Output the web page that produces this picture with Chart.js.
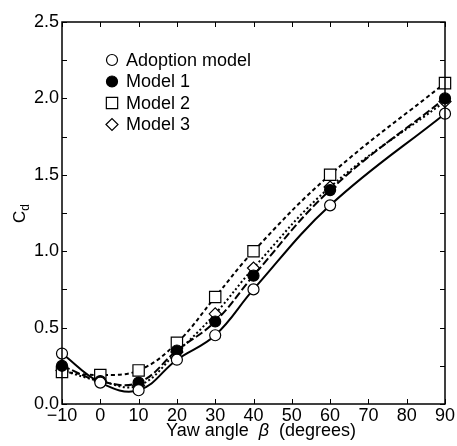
<!DOCTYPE html>
<html lang="en">
<head>
<meta charset="UTF-8">
<title>Cd vs yaw angle</title>
<script src="https://cdn.jsdelivr.net/npm/chart.js"></script>
<style>
  html, body { margin: 0; padding: 0; background: #fff; }
  #box { width: 457px; height: 446px; }
</style>
</head>
<body>
<div id="box"><canvas id="mycanvas"></canvas></div>
<script>
  // data
  const yawAngles = [-10, 0, 10, 20, 30, 40, 60, 90]
  const adoptionModel = [0.33, 0.14, 0.09, 0.29, 0.45, 0.75, 1.30, 1.90]
  const model1 = [0.25, 0.15, 0.14, 0.35, 0.54, 0.84, 1.40, 2.00]
  const model2 = [0.21, 0.19, 0.22, 0.40, 0.70, 1.00, 1.50, 2.10]
  const model3 = [0.22, 0.15, 0.12, 0.34, 0.59, 0.89, 1.42, 1.98]
  const seriesNames = ['Adoption model', 'Model 1', 'Model 2', 'Model 3']
  const xTicks = [-10, 0, 10, 20, 30, 40, 50, 60, 70, 80, 90]
  const yTicks = [0, 0.25, 0.5, 0.75, 1, 1.25, 1.5, 1.75, 2, 2.25, 2.5]
  const yLabels = [0, 0.5, 1, 1.5, 2, 2.5]

  const FONT = '"Liberation Sans", Arial, sans-serif'

  const toPoints = arr => arr.map((v, i) => ({ x: yawAngles[i], y: v }))

  const looks = [
    { dash: [], style: 'circle', fill: '#fff', r: 5.5 },
    { dash: [8, 3], style: 'circle', fill: '#000', r: 5.5 },
    { dash: [4, 3], style: 'rect', fill: '#fff', r: 8 },
    { dash: [2, 2.5], style: 'rectRot', fill: '#fff', r: 6 }
  ]
  const allSeries = [adoptionModel, model1, model2, model3]

  const datasets = allSeries.map((s, i) => ({
    label: seriesNames[i],
    data: toPoints(s),
    borderColor: '#000',
    borderWidth: 2,
    borderDash: looks[i].dash,
    tension: 0.4,
    pointStyle: looks[i].style,
    pointRadius: looks[i].r,
    pointBackgroundColor: looks[i].fill,
    pointBorderColor: '#000',
    pointBorderWidth: 1.2,
    clip: false
  }))

  // frame, inward ticks, axis titles and legend
  const decor = {
    id: 'decor',
    afterDatasetsDraw(c) {
      const ctx = c.ctx
      const a = c.chartArea
      const xs = c.scales.x, ys = c.scales.y
      ctx.save()
      ctx.strokeStyle = '#000'
      ctx.lineWidth = 1.5
      ctx.setLineDash([])
      ctx.strokeRect(a.left, a.top, a.right - a.left, a.bottom - a.top)
      ctx.lineWidth = 1
      ctx.beginPath()
      xTicks.forEach(t => {
        const px = Math.round(xs.getPixelForValue(t)) + 0.5
        ctx.moveTo(px, a.bottom); ctx.lineTo(px, a.bottom - 5)
        ctx.moveTo(px, a.top); ctx.lineTo(px, a.top + 5)
      })
      yTicks.forEach(t => {
        const py = Math.round(ys.getPixelForValue(t)) + 0.5
        ctx.moveTo(a.left, py); ctx.lineTo(a.left + 5, py)
        ctx.moveTo(a.right, py); ctx.lineTo(a.right - 5, py)
      })
      ctx.stroke()

      // x title
      ctx.fillStyle = '#000'
      ctx.textBaseline = 'alphabetic'
      ctx.textAlign = 'left'
      let tx = a.left + 104
      const ty = a.bottom + 32
      ctx.font = '18px ' + FONT
      ctx.fillText('Yaw angle ', tx, ty)
      tx += ctx.measureText('Yaw angle  ').width
      ctx.font = 'italic 18px ' + FONT
      ctx.fillText('β', tx, ty)
      tx += ctx.measureText('β').width
      ctx.font = '18px ' + FONT
      ctx.fillText('  (degrees)', tx, ty)

      // y title C_d
      ctx.save()
      ctx.translate(a.left - 37, (a.top + a.bottom) / 2)
      ctx.rotate(-Math.PI / 2)
      ctx.font = '17px ' + FONT
      const cw = ctx.measureText('C').width
      ctx.fillText('C', -10, 0)
      ctx.font = '12px ' + FONT
      ctx.fillText('d', -10 + cw, 4)
      ctx.restore()

      // legend inside the plot
      ctx.font = '18px ' + FONT
      ctx.textBaseline = 'middle'
      c.data.datasets.forEach((d, i) => {
        const mx = a.left + 50
        const my = a.top + 38 + i * 21.5
        ctx.fillStyle = d.pointBackgroundColor
        ctx.strokeStyle = '#000'
        ctx.lineWidth = 1.2
        ctx.setLineDash([])
        Chart.helpers.drawPoint(ctx, {
          pointStyle: d.pointStyle,
          radius: d.pointStyle === 'circle' ? 5.5 : d.pointRadius,
          borderWidth: 1.2,
          rotation: 0
        }, mx, my)
        ctx.fillStyle = '#000'
        ctx.fillText(d.label, mx + 14, my + 1)
      })
      ctx.restore()
    }
  }

  new Chart(document.getElementById('mycanvas'), {
    type: 'line',
    data: { datasets },
    options: {
      responsive: true,
      maintainAspectRatio: false,
      animation: false,
      layout: { padding: { top: 22, right: 12, left: 0, bottom: 0 } },
      plugins: { legend: { display: false }, tooltip: { enabled: false } },
      scales: {
        x: {
          type: 'linear',
          min: -10, max: 90,
          afterFit: s => { s.height = 42 },
          afterBuildTicks: s => { s.ticks = xTicks.map(v => ({ value: v })) },
          grid: { display: false, drawTicks: false },
          border: { display: false },
          ticks: {
            padding: 1,
            color: '#000',
            font: { family: FONT, size: 18 },
            callback: v => String(v).replace('-', '\u2212')
          }
        },
        y: {
          min: 0, max: 2.5,
          afterFit: s => { s.width = 62 },
          afterBuildTicks: s => { s.ticks = yLabels.map(v => ({ value: v })) },
          grid: { display: false, drawTicks: false },
          border: { display: false },
          ticks: {
            padding: 3,
            color: '#000',
            font: { family: FONT, size: 18 },
            callback: v => Number(v).toFixed(1)
          }
        }
      }
    },
    plugins: [decor]
  })
</script>
</body>
</html>
